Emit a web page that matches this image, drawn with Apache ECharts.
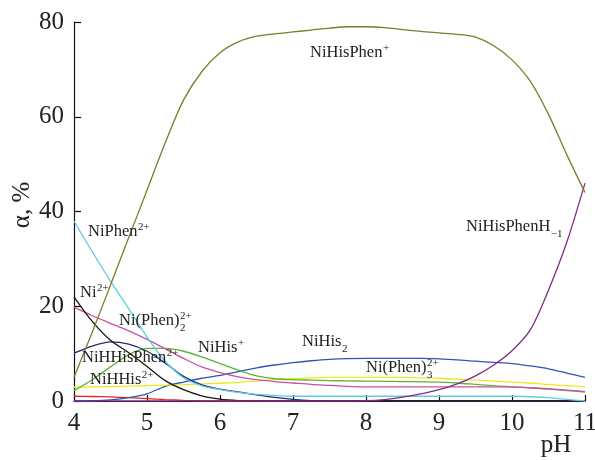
<!DOCTYPE html>
<html>
<head>
<meta charset="utf-8">
<script src="https://cdn.jsdelivr.net/npm/echarts@6/dist/echarts.min.js"></script>
<style>html,body{margin:0;padding:0;background:#fff;}#c{width:595px;height:460px;}</style>
</head>
<body>
<div id="c"></div>
<script>
// pH sampling grid (step 0.25)
const pH = [4, 4.25, 4.5, 4.75, 5, 5.25, 5.5, 5.75, 6, 6.25, 6.5, 6.75, 7, 7.25, 7.5, 7.75, 8, 8.25, 8.5, 8.75, 9, 9.25, 9.5, 9.75, 10, 10.25, 10.5, 10.75, 11];
// species fractions, %
const NiHisPhen   = [5, 14.5, 24.5, 34.5, 44.5, 54.5, 63.5, 69.5, 73.5, 75.8, 77, 77.5, 77.9, 78.3, 78.7, 79, 79, 78.8, 78.4, 78, 77.7, 77.4, 76.8, 75, 72, 67.5, 60.5, 52, 44];
const NiHisPhenH1 = [0, 0, 0, 0, 0, 0, 0, 0, 0, 0, 0, 0, 0, 0, 0, 0, 0.05, 0.3, 0.8, 1.5, 2.4, 3.6, 5.3, 7.6, 10.6, 15, 23.4, 33.5, 46];
const NiPhen      = [38, 31.5, 25.3, 19.5, 13.5, 8.4, 4.9, 3.2, 2.4, 1.8, 1.4, 1.15, 1.0, 1.0, 1.0, 1.0, 1.0, 1.0, 1.0, 1.0, 1.0, 1.0, 1.0, 1.0, 1.0, 0.9, 0.7, 0.35, 0];
const Ni          = [22, 16.8, 12.8, 10.2, 7.3, 4.3, 2.4, 1.1, 0.4, 0.1, 0, 0, 0, 0, 0, 0, 0, 0, 0, 0, 0, 0, 0, 0, 0, 0, 0, 0, 0];
const NiPhen2     = [19.8, 18.0, 16.4, 14.8, 13.0, 11.0, 9.0, 7.2, 6.0, 5.1, 4.5, 4.1, 3.8, 3.5, 3.3, 3.1, 3.0, 3.0, 3.0, 3.0, 3.0, 3.0, 3.0, 3.0, 3.0, 2.8, 2.6, 2.3, 2.0];
const NiHHisPhen  = [10.1, 11.6, 12.5, 12.0, 10.5, 8.0, 5.2, 3.4, 2.5, 1.9, 1.3, 0.75, 0.35, 0.1, 0, 0, 0, 0, 0, 0, 0, 0, 0, 0, 0, 0, 0, 0, 0];
const NiHis       = [2.2, 4.5, 7.2, 9.8, 11.1, 11.1, 10.5, 9.3, 7.9, 6.5, 5.3, 4.7, 4.5, 4.4, 4.3, 4.25, 4.2, 4.15, 4.1, 4.05, 4.0, 3.8, 3.5, 3.2, 3.0, 2.75, 2.5, 2.2, 1.9];
const NiPhen3     = [2.9, 3.0, 3.05, 3.15, 3.25, 3.35, 3.45, 3.6, 3.75, 3.95, 4.2, 4.5, 4.75, 4.9, 5.0, 5.0, 5.0, 5.0, 5.0, 4.9, 4.8, 4.6, 4.4, 4.2, 4.0, 3.8, 3.5, 3.25, 3.0];
const NiHis2      = [0, 0.05, 0.25, 0.7, 1.5, 3.1, 4.0, 4.8, 5.4, 6.2, 7.0, 7.6, 8.1, 8.5, 8.8, 8.95, 9.0, 9.0, 9.0, 9.0, 8.9, 8.7, 8.4, 8.15, 7.9, 7.4, 6.8, 5.9, 5.0];
const NiHHis      = [1.0, 0.95, 0.85, 0.7, 0.5, 0.3, 0.15, 0.05, 0.01, 0, 0, 0, 0, 0, 0, 0, 0, 0, 0, 0, 0, 0, 0, 0, 0, 0, 0, 0, 0];

const xTicks = [4, 5, 6, 7, 8, 9, 10, 11];
const yTicks = [0, 20, 40, 60, 80];

const seriesDefs = [
  ['NiHHis2+', NiHHis, '#e5262a'],
  ['NiHis2', NiHis2, '#2f55b5'],
  ['Ni(Phen)3', NiPhen3, '#eeea1a'],
  ['NiHis+', NiHis, '#5cb536'],
  ['NiHHisPhen2+', NiHHisPhen, '#222a7e'],
  ['Ni(Phen)2', NiPhen2, '#c950a8'],
  ['Ni2+', Ni, '#151515'],
  ['NiPhen2+', NiPhen, '#5dcde0'],
  ['NiHisPhenH-1', NiHisPhenH1, '#84288a'],
  ['NiHisPhen+', NiHisPhen, '#7f7b2a']
];

const SERIF = '"Liberation Serif", "DejaVu Serif", serif';
const F_MAIN = '16.5px ' + SERIF;
const F_SMALL = '11px ' + SERIF;
const TXT = '#222';
const mctx = document.createElement('canvas').getContext('2d');

const graphics = [];
function lab(x, y, main, sup, sub) {
  mctx.font = F_MAIN;
  const w = mctx.measureText(main).width;
  graphics.push({type: 'text', x: x, y: y, z: 10, style: {text: main, font: F_MAIN, fill: TXT, verticalAlign: 'middle'}});
  if (sup) graphics.push({type: 'text', x: x + w + 0.5, y: y - 5, z: 10, style: {text: sup, font: F_SMALL, fill: TXT, verticalAlign: 'middle'}});
  if (sub) graphics.push({type: 'text', x: x + w + 0.5, y: y + 7, z: 10, style: {text: sub, font: F_SMALL, fill: TXT, verticalAlign: 'middle'}});
}
lab(310, 53, 'NiHisPhen', '+');
lab(88, 232, 'NiPhen', '2+');
lab(80, 293, 'Ni', '2+');
lab(119, 321, 'Ni(Phen)', '2+', '2');
lab(198, 348, 'NiHis', '+');
lab(82, 358, 'NiHHisPhen', '2+');
lab(90, 380, 'NiHHis', '2+');
lab(302, 342, 'NiHis', null, '2');
lab(366, 368, 'Ni(Phen)', '2+', '3');
lab(466, 227, 'NiHisPhenH', null, '\u22121');
graphics.push({type: 'text', x: 22, y: 205, rotation: Math.PI / 2, z: 10,
  style: {text: '\u03b1, %', font: '25px ' + SERIF, fill: TXT, align: 'center', verticalAlign: 'middle'}});
graphics.push({type: 'text', x: 556, y: 445, z: 10,
  style: {text: 'pH', font: '25px ' + SERIF, fill: TXT, align: 'center', verticalAlign: 'middle'}});

const chart = echarts.init(document.getElementById('c'), null, {renderer: 'canvas'});
chart.setOption({
  animation: false,
  backgroundColor: '#fff',
  grid: {left: 74, right: 10, top: 22, bottom: 59, containLabel: false, outerBoundsMode: 'none'},
  xAxis: {
    type: 'value', min: xTicks[0], max: xTicks[xTicks.length - 1], interval: 1,
    axisLine: {onZero: false, lineStyle: {color: '#111', width: 1.2}},
    axisTick: {inside: true, length: 6, lineStyle: {color: '#111', width: 1.2}},
    axisLabel: {margin: 10, color: TXT, fontSize: 25, fontFamily: SERIF, hideOverlap: false},
    splitLine: {show: false}
  },
  yAxis: {
    type: 'value', min: yTicks[0], max: yTicks[yTicks.length - 1], interval: 20,
    axisLine: {show: true, lineStyle: {color: '#111', width: 1.2}},
    axisTick: {show: true, inside: true, length: 7, lineStyle: {color: '#111', width: 1.2}},
    axisLabel: {margin: 10, color: TXT, fontSize: 25, fontFamily: SERIF},
    splitLine: {show: false}
  },
  series: seriesDefs.map(([name, vals, color]) => ({
    name: name, type: 'line', smooth: 0.3, symbol: 'none',
    lineStyle: {color: color, width: 1.3},
    data: pH.map((x, i) => [x, vals[i]])
  })),
  graphic: graphics
});
</script>
</body>
</html>
